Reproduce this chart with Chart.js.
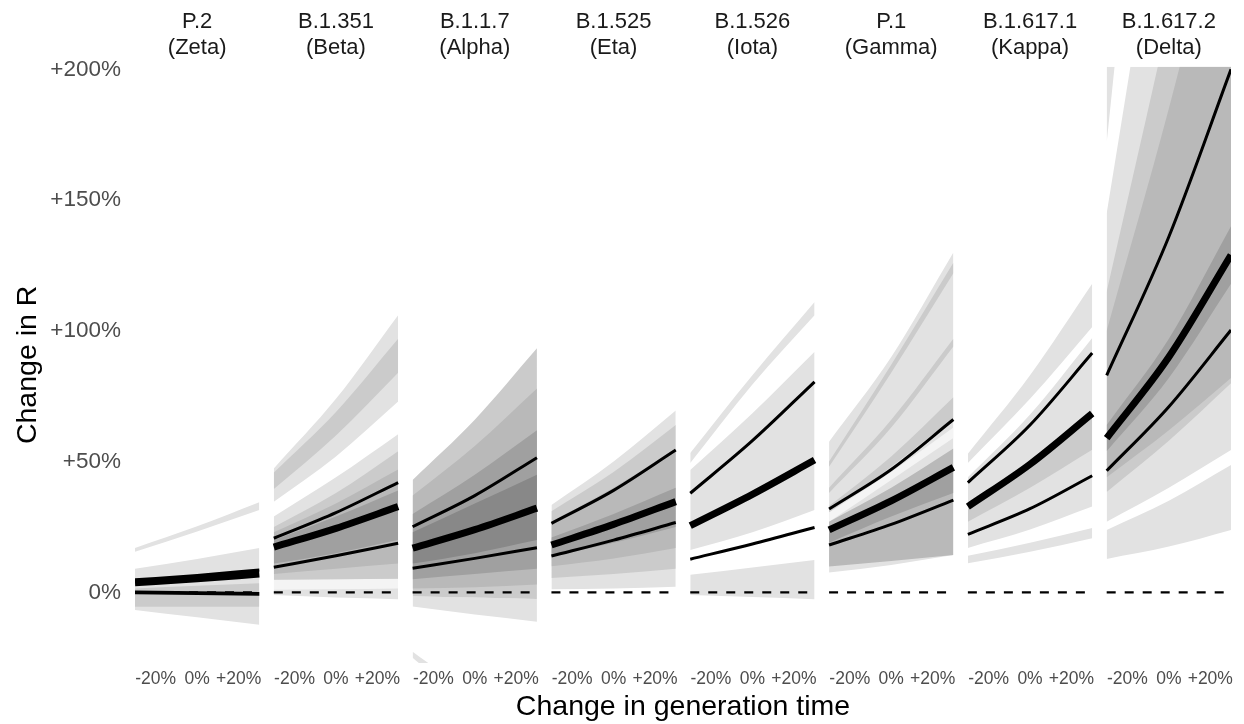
<!DOCTYPE html>
<html>
<head>
<meta charset="utf-8">
<script src="https://cdn.jsdelivr.net/npm/chart.js@4.4.1/dist/chart.umd.min.js"></script>
<style>
  html, body { margin: 0; padding: 0; background: #fff; }
</style>
</head>
<body>
<canvas id="rChart" width="1244" height="724"></canvas>
<script>
// variants (facets)
const variants = ['P.2', 'B.1.351', 'B.1.1.7', 'B.1.525', 'B.1.526', 'P.1', 'B.1.617.1', 'B.1.617.2'];
const greek = ['Zeta', 'Beta', 'Alpha', 'Eta', 'Iota', 'Gamma', 'Kappa', 'Delta'];

// change in generation time (%) where each curve is read
const GT = [-30, 0, 30];
const gtTicks = [-20, 0, 20];
const rTicks = [0, 50, 100, 150, 200];

// change in R (%) at GT, one triple per variant
const medianR = [
  [3.7, 5.2, 7],
  [17.3, 24.5, 32.8],
  [16.9, 24, 32.2],
  [18.1, 26, 34.7],
  [25.5, 37.5, 50.6],
  [23.9, 35, 47.8],
  [32.8, 49, 68.4],
  [59, 90, 129]
];
const upperR = [
  [4.8, 6.5, 8.6],
  [20.7, 30.5, 42],
  [25.1, 37, 51.5],
  [26.4, 39, 54.4],
  [37.9, 58, 80.5],
  [31.9, 47, 66.1],
  [42, 64, 91.5],
  [83, 136, 200]
];
const lowerR = [
  [0, -0.3, -0.6],
  [9.6, 14, 18.8],
  [9.2, 13, 17.1],
  [13.9, 20, 26.7],
  [12.7, 18.5, 24.8],
  [18.1, 26, 35.3],
  [22.2, 32, 44.6],
  [46.5, 71, 100.3]
];

// uncertainty bands per variant: [density level, low triple, high triple], outermost first
const bands = [
  [
    [0, [15.5, 23.3, 31.5], [17, 25.3, 34.5]],
    [0, [-6.7, -9.5, -12.4], [9, 12.8, 17]],
    [1, [-5.5, -5.5, -5.5], [1.5, 2.5, 3.5]]
  ],
  [
    [0, [34.7, 52, 73], [47.4, 74, 106]],
    [1, [39.5, 60, 84], [45.8, 69, 97]],
    [0, [-1, -2, -2.6], [29, 44, 60.5]],
    [5, [1, 1.2, 1.5], [4.8, 5, 5.2]],
    [1, [4.8, 5, 5.2], [25, 38, 54]],
    [2, [7, 9, 11], [23, 34, 47]],
    [3, [11, 15, 20], [20, 29, 39]]
  ],
  [
    [0, [-25, -45, -70], [-22.7, -40, -60]],
    [0, [-5.4, -8.5, -11.2], [-1.5, -2, -2.5]],
    [1, [-1.5, -2, -2.5], [43, 66, 93.3]],
    [2, [1.5, 2, 3], [37, 56, 78]],
    [3, [5, 7, 9], [30, 45, 62]],
    [4, [11, 15, 20], [23, 34, 45]]
  ],
  [
    [0, [1.2, 1.5, 2.2], [33.4, 50, 69.5]],
    [1, [5.5, 7, 9], [31, 46, 64]],
    [2, [10, 13, 17], [27, 40, 55]],
    [3, [14, 19, 25], [21, 30, 40]]
  ],
  [
    [0, [49.5, 79.5, 106], [53.3, 83, 111]],
    [0, [16.2, 23, 31.5], [46.8, 68.5, 92]],
    [0, [-1, -1.8, -2.6], [6.7, 9.5, 12.4]]
  ],
  [
    [0, [7.6, 10.5, 14.3], [57.6, 90, 130]],
    [1, [48, 84, 122], [50, 87, 126]],
    [1, [38, 63, 94], [40, 66, 97]],
    [1, [30.5, 48, 66.6], [33, 52, 74.6]],
    [5, [27, 43, 59], [30.5, 46, 63]],
    [2, [9.9, 12, 14.3], [27, 40, 55]],
    [3, [19, 29, 38], [23.5, 36, 48]]
  ],
  [
    [0, [49.5, 74, 101.5], [53, 83, 118]],
    [0, [17, 24, 32.8], [44, 68, 97.3]],
    [0, [11.1, 15.5, 20.7], [14, 19, 24.6]],
    [1, [27, 40, 54.5], [33, 49, 68.4]]
  ],
  [
    [0, [172, 400, 600], [260, 500, 750]],
    [0, [12.8, 17.5, 23.9], [23.9, 35, 48.7]],
    [0, [27, 40, 54.4], [145, 290, 420]],
    [1, [38.4, 58, 80], [115, 220, 330]],
    [2, [44, 62, 82], [100, 185, 280]],
    [3, [54, 82, 118], [64, 97, 140]]
  ]
];

const shades = ['#e2e2e2', '#cbcbcb', '#b9b9b9', '#a0a0a0', '#888888', '#f4f4f4'];
const FONT = "'Liberation Sans', Arial, sans-serif";
const STEP = 67;          // facet spacing on the shared x scale
const XMAX = 7 * STEP + 60;

// position of a generation-time value inside facet i
const fx = (i, g) => i * STEP + 30 + g;
const series = (i, vals) => GT.map((g, k) => ({ x: fx(i, g), y: vals[k] }));
const none = 'rgba(0,0,0,0)';

const datasets = [];
variants.forEach((v, i) => {
  datasets.push({ data: series(i, medianR[i]), borderColor: '#000', borderWidth: 7, order: 0 });
  datasets.push({ data: series(i, upperR[i]), borderColor: '#000', borderWidth: 3, order: 0 });
  datasets.push({ data: series(i, lowerR[i]), borderColor: '#000', borderWidth: i === 0 ? 3.8 : 3, order: 0 });
  datasets.push({
    data: [{ x: fx(i, -30), y: 0 }, { x: fx(i, 30), y: 0 }],
    borderColor: '#000', borderWidth: 2.4, borderDash: [9, 9], order: 1
  });
  bands[i].forEach(([lvl, lo, hi], k) => {
    const z = 100 - k;
    datasets.push({ data: series(i, lo), borderColor: none, borderWidth: 0, fill: false, order: z });
    datasets.push({ data: series(i, hi), borderColor: none, borderWidth: 0, backgroundColor: shades[lvl], fill: '-1', order: z });
  });
});

const facetOf = v => Math.round((v - 30) / STEP);
const bottomTicks = [];
variants.forEach((v, i) => gtTicks.forEach(g => bottomTicks.push(fx(i, g))));
const topTicks = variants.map((v, i) => fx(i, 0));

new Chart(document.getElementById('rChart'), {
  type: 'line',
  data: { datasets },
  options: {
    responsive: false,
    animation: false,
    events: [],
    layout: { padding: { left: 0, right: 13, top: 0, bottom: 0 } },
    elements: { point: { radius: 0 }, line: { cubicInterpolationMode: 'monotone' } },
    plugins: { legend: { display: false }, tooltip: { enabled: false } },
    scales: {
      x: {
        type: 'linear', position: 'bottom', min: 0, max: XMAX,
        afterBuildTicks: s => { s.ticks = bottomTicks.map(v => ({ value: v })); },
        afterFit: s => { s.height = 61; },
        grid: { display: false, drawTicks: false },
        border: { display: false },
        ticks: {
          autoSkip: false, maxRotation: 0, minRotation: 0, padding: 6,
          color: '#4d4d4d', font: { family: FONT, size: 17.5 },
          callback: v => {
            const g = Math.round(v - facetOf(v) * STEP - 30);
            return g === 0 ? '0%' : (g > 0 ? '+' : '') + g + '%';
          }
        },
        title: {
          display: true, text: 'Change in generation time', color: '#000',
          font: { family: FONT, size: 28.5 }, padding: { top: 0, bottom: 0 }
        }
      },
      xTop: {
        type: 'linear', position: 'top', min: 0, max: XMAX,
        afterBuildTicks: s => { s.ticks = topTicks.map(v => ({ value: v })); },
        afterFit: s => { s.height = 66.7; },
        grid: { display: false, drawTicks: false },
        border: { display: false },
        ticks: {
          autoSkip: false, maxRotation: 0, minRotation: 0, padding: 6,
          color: '#1a1a1a', font: { family: FONT, size: 22, lineHeight: 1.17 },
          callback: v => [variants[facetOf(v)], '(' + greek[facetOf(v)] + ')']
        }
      },
      y: {
        type: 'linear', min: -27, max: 201,
        afterBuildTicks: s => { s.ticks = rTicks.map(v => ({ value: v })); },
        afterFit: s => { s.width = 135; },
        grid: { display: false, drawTicks: false },
        border: { display: false },
        ticks: {
          padding: 14, color: '#4d4d4d', font: { family: FONT, size: 22.5 },
          callback: v => v === 0 ? '0%' : '+' + v + '%'
        },
        title: {
          display: true, text: 'Change in R', color: '#000',
          font: { family: FONT, size: 28.5 }, padding: { top: 11, bottom: 0 }
        }
      }
    }
  }
});
</script>
</body>
</html>
